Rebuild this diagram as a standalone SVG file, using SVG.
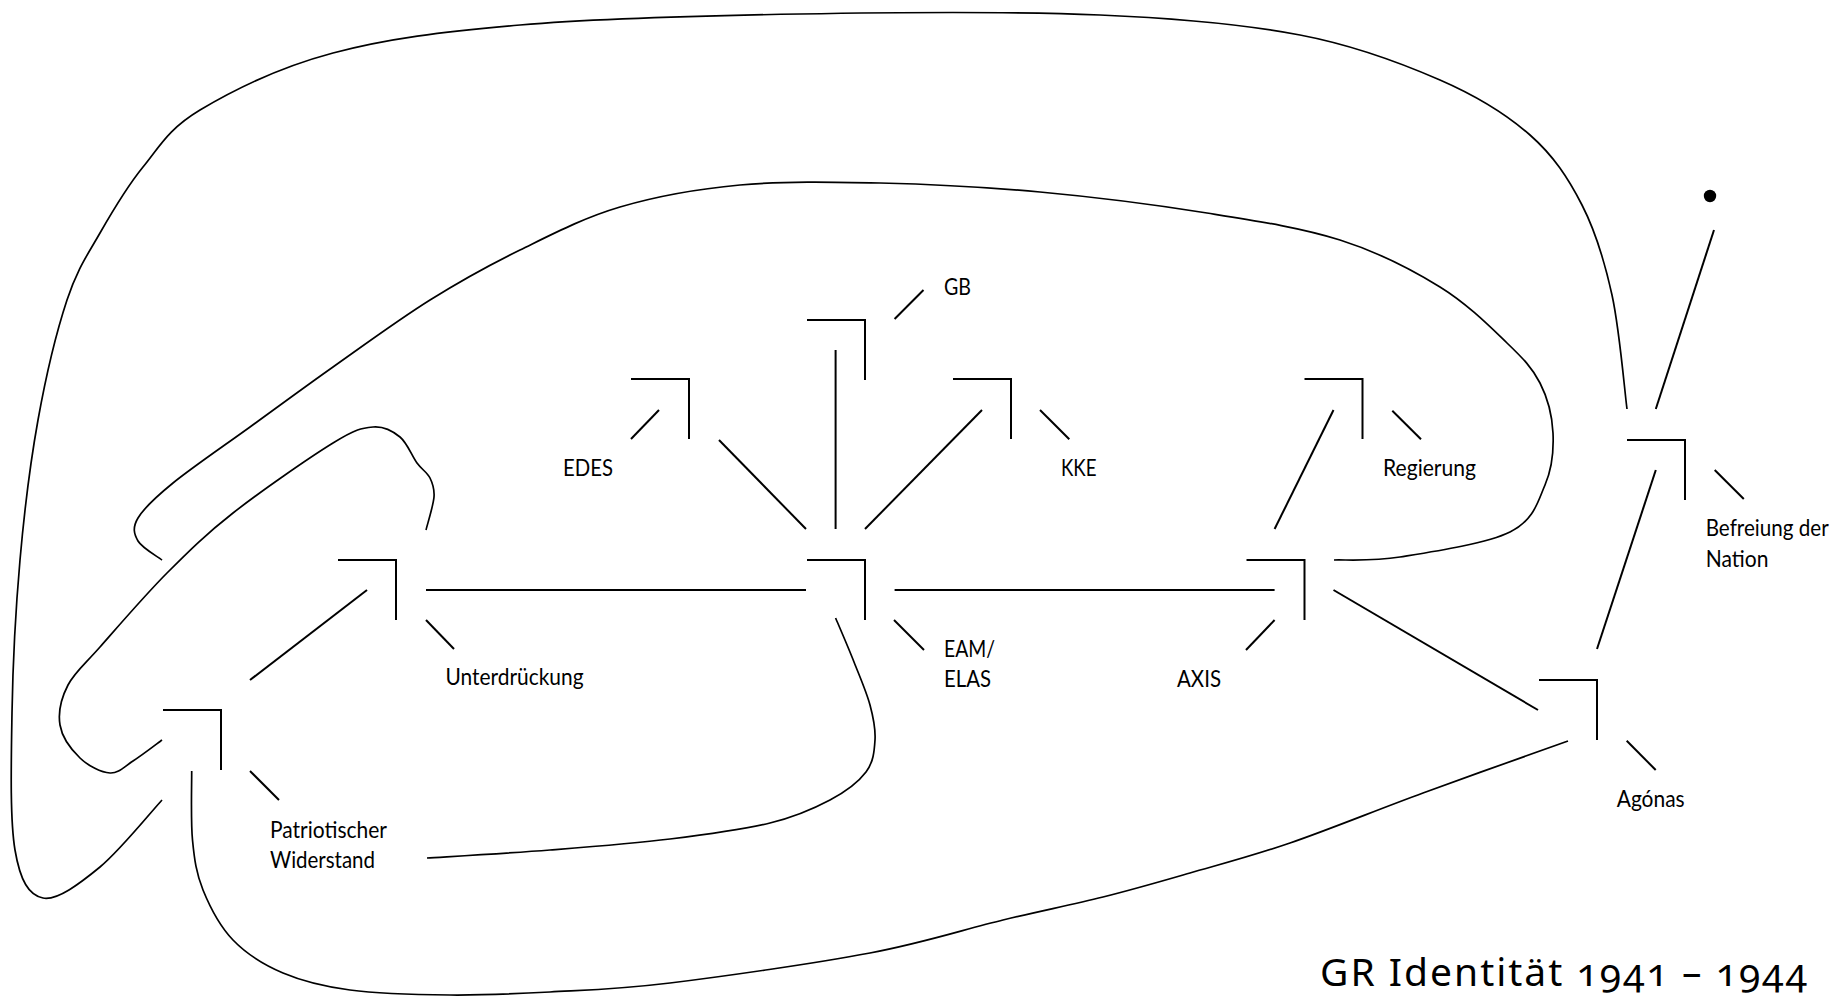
<svg xmlns="http://www.w3.org/2000/svg" width="1842" height="997" viewBox="0 0 1842 997">
<style>
  .nd{fill:none;stroke:#000;stroke-width:2;stroke-linecap:butt}
  .cn{fill:none;stroke:#000;stroke-width:2}
  .cv{fill:none;stroke:#000;stroke-width:1.7}
  .lb{font-family:Lato,"Open Sans","Liberation Sans",sans-serif;font-size:23px;fill:#000}
  .tt{font-family:"Noto Sans","Open Sans","Liberation Sans",sans-serif;font-size:39px;fill:#000;font-variant-numeric:oldstyle-nums;font-feature-settings:"onum" 1}
</style>
<defs>
  <path id="corner" d="M-58,0 H0 V60"/>
</defs>
<rect x="0" y="0" width="1842" height="997" fill="#fff"/>

<g id="connectors">
  <path class="cv" d="M1627,409 C1624.5,390 1619.5,329 1612,295 C1604.5,261 1595.7,231.7 1582,205 C1568.3,178.3 1553.7,155.8 1530,135 C1506.3,114.2 1478.3,96.7 1440,80 C1401.7,63.3 1356.7,45.8 1300,35 C1243.3,24.2 1183.3,18.5 1100,15 C1016.7,11.5 896.7,12.3 800,14 C703.3,15.7 597.8,18.5 520,25 C442.2,31.5 386.3,38.8 333,53 C279.7,67.2 231.7,91 200,110 C168.3,129 159.7,146.5 143,167 C126.3,187.5 112.7,210.8 100,233 C87.3,255.2 77.3,268.8 67,300 C56.7,331.2 45.8,376.7 38,420 C30.2,463.3 24.3,511.2 20,560 C15.7,608.8 12.8,664.7 12,713 C11.2,761.3 9.8,819.2 15,850 C20.2,880.8 28.8,895.2 43,898 C57.2,900.8 80.2,883.3 100,867 C119.8,850.7 151.7,811.2 162,800"/>
  <path class="cv" d="M162,560 C158,556.8 142,548 138,541 C134,534 132.2,527.7 138,518 C143.8,508.3 154.3,498.2 173,483 C191.7,467.8 223.3,446.3 250,427 C276.7,407.7 303,388.2 333,367 C363,345.8 398.8,319.5 430,300 C461.2,280.5 488.3,265.5 520,250 C551.7,234.5 583.3,217.8 620,207 C656.7,196.2 696.7,189 740,185 C783.3,181 830,181.8 880,183 C930,184.2 985.5,187 1040,192 C1094.5,197 1157,205 1207,213 C1257,221 1301.2,227.7 1340,240 C1378.8,252.3 1412.2,269.8 1440,287 C1467.8,304.2 1490.3,327 1507,343 C1523.7,359 1532.3,368 1540,383 C1547.7,398 1552.2,416 1553,433 C1553.8,450 1552.2,468.5 1545,485 C1537.8,501.5 1534.2,520 1510,532 C1485.8,544 1429.3,552.3 1400,557 C1370.7,561.7 1345,559.5 1334,560"/>
  <path class="cv" d="M162,740 C157.2,743.5 141.7,755.5 133,761 C124.3,766.5 118.8,773.5 110,773 C101.2,772.5 88.3,766 80,758 C71.7,750 62,737.2 60,725 C58,712.8 61.3,698 68,685 C74.7,672 83.5,665.7 100,647 C116.5,628.3 144.8,595.3 167,573 C189.2,550.7 205.3,534.7 233,513 C260.7,491.3 309.7,457.3 333,443 C356.3,428.7 361.8,428 373,427 C384.2,426 392.7,431 400,437 C407.3,443 412,456.2 417,463 C422,469.8 427.2,472.3 430,478 C432.8,483.7 434.7,488.3 434,497 C433.3,505.7 427.3,524.5 426,530"/>
  <path class="cv" d="M191.7,771 C191.8,782.5 190.6,820.2 192.5,840 C194.4,859.8 196.3,873.3 203,890 C209.8,906.7 219.7,926.2 233,940 C246.3,953.8 263.5,964.7 283,973 C302.5,981.3 322.2,986.3 350,990 C377.8,993.7 416.7,994.7 450,995 C483.3,995.3 513.3,994 550,992 C586.7,990 616.7,989.5 670,983 C723.3,976.5 814.5,963.5 870,953 C925.5,942.5 964.2,929.3 1003,920 C1041.8,910.7 1071.8,904.8 1103,897 C1134.2,889.2 1158.8,882 1190,873 C1221.2,864 1251.2,856.3 1290,843 C1328.8,829.7 1376.7,810 1423,793 C1469.3,776 1543.8,749.7 1568,741"/>
  <path class="cv" d="M835.6,618 C838.7,625.3 848.3,647.5 854,662 C859.7,676.5 866.5,692 870,705 C873.5,718 875.7,728.8 875,740 C874.3,751.2 873.5,762 866,772 C858.5,782 846,791.5 830,800 C814,808.5 796.7,816.5 770,823 C743.3,829.5 706.7,834.5 670,839 C633.3,843.5 590.5,846.8 550,850 C509.5,853.2 447.5,856.7 427,858"/>
  <line class="cn" x1="250" y1="680" x2="367" y2="590"/>
  <line class="cn" x1="426" y1="590" x2="806" y2="590"/>
  <line class="cn" x1="719" y1="440" x2="806" y2="529"/>
  <line class="cn" x1="835.6" y1="350" x2="835.6" y2="529"/>
  <line class="cn" x1="865" y1="529" x2="982" y2="410"/>
  <line class="cn" x1="894.6" y1="590" x2="1274.6" y2="590"/>
  <line class="cn" x1="1274.6" y1="529" x2="1333.5" y2="410"/>
  <line class="cn" x1="1333.5" y1="590" x2="1538" y2="710"/>
  <line class="cn" x1="1597" y1="649" x2="1655.8" y2="470"/>
  <line class="cn" x1="1655.8" y1="409" x2="1714" y2="230"/>
  <circle cx="1710" cy="196" r="6.2" fill="#000"/>
</g>

<g id="node-patriotischer">
  <use href="#corner" class="nd" transform="translate(221,710)"/>
  <line class="nd" x1="250" y1="771" x2="279" y2="800"/>
  <text class="lb" x="270" y="837.7" textLength="117" lengthAdjust="spacingAndGlyphs">Patriotischer</text>
  <text class="lb" x="270" y="868.3" textLength="105" lengthAdjust="spacingAndGlyphs">Widerstand</text>
</g>
<g id="node-unterdrueckung">
  <use href="#corner" class="nd" transform="translate(396,560)"/>
  <line class="nd" x1="426" y1="620" x2="454" y2="649"/>
  <text class="lb" x="445.5" y="685" textLength="138" lengthAdjust="spacingAndGlyphs">Unterdrückung</text>
</g>
<g id="node-edes">
  <use href="#corner" class="nd" transform="translate(689,379)"/>
  <line class="nd" x1="631" y1="439" x2="659" y2="410"/>
  <text class="lb" x="563" y="476" textLength="50" lengthAdjust="spacingAndGlyphs">EDES</text>
</g>
<g id="node-gb">
  <use href="#corner" class="nd" transform="translate(865,320)"/>
  <line class="nd" x1="894.6" y1="319" x2="923.5" y2="290"/>
  <text class="lb" x="944" y="295" textLength="27" lengthAdjust="spacingAndGlyphs">GB</text>
</g>
<g id="node-kke">
  <use href="#corner" class="nd" transform="translate(1011,379)"/>
  <line class="nd" x1="1040" y1="410" x2="1069.3" y2="439.3"/>
  <text class="lb" x="1061" y="476" textLength="35.5" lengthAdjust="spacingAndGlyphs">KKE</text>
</g>
<g id="node-eam">
  <use href="#corner" class="nd" transform="translate(865,560)"/>
  <line class="nd" x1="894" y1="620" x2="924" y2="650"/>
  <text class="lb" x="944" y="656.7" textLength="51" lengthAdjust="spacingAndGlyphs">EAM/</text>
  <text class="lb" x="944" y="686.7" textLength="47" lengthAdjust="spacingAndGlyphs">ELAS</text>
</g>
<g id="node-axis">
  <use href="#corner" class="nd" transform="translate(1304.5,560)"/>
  <line class="nd" x1="1274.6" y1="620" x2="1246" y2="650"/>
  <text class="lb" x="1177" y="686.7" textLength="44" lengthAdjust="spacingAndGlyphs">AXIS</text>
</g>
<g id="node-regierung">
  <use href="#corner" class="nd" transform="translate(1362.5,379)"/>
  <line class="nd" x1="1392.3" y1="410.7" x2="1421" y2="439.3"/>
  <text class="lb" x="1383" y="476" textLength="93" lengthAdjust="spacingAndGlyphs">Regierung</text>
</g>
<g id="node-agonas">
  <use href="#corner" class="nd" transform="translate(1597,680)"/>
  <line class="nd" x1="1626.7" y1="740.7" x2="1655.7" y2="770"/>
  <text class="lb" x="1616.7" y="806.7" textLength="68" lengthAdjust="spacingAndGlyphs">Agónas</text>
</g>
<g id="node-befreiung">
  <use href="#corner" class="nd" transform="translate(1685,440)"/>
  <line class="nd" x1="1714.7" y1="470" x2="1743.8" y2="499"/>
  <text class="lb" x="1705.7" y="536" textLength="123" lengthAdjust="spacingAndGlyphs">Befreiung der</text>
  <text class="lb" x="1705.7" y="567" textLength="62.7" lengthAdjust="spacingAndGlyphs">Nation</text>
</g>

<g id="title">
  <text class="tt" x="1320" y="986" textLength="487" lengthAdjust="spacing">GR Identität 1941 – 1944</text>
</g>
</svg>
